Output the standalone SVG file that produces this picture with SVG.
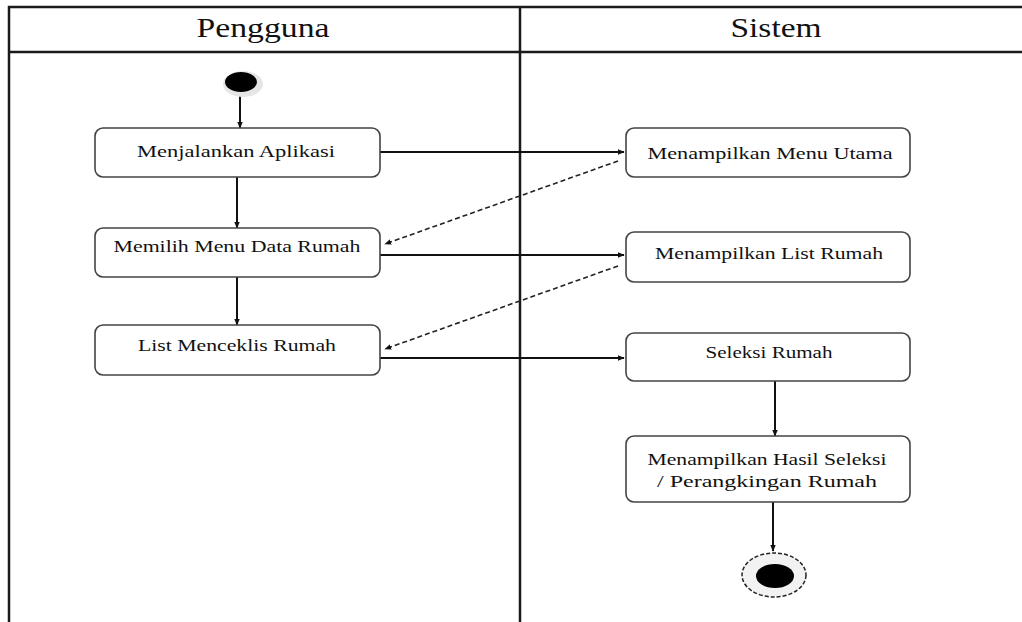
<svg xmlns="http://www.w3.org/2000/svg" width="1022" height="622" viewBox="0 0 1022 622">
  <style>
    .lane { fill: none; stroke: #1a1a1a; stroke-width: 2.5; }
    .head { font-family: "Liberation Serif", "Times New Roman", serif; font-size: 27px; fill: #111; text-anchor: middle; }
    .act rect { fill: #fff; stroke: #444; stroke-width: 1.6; }
    .act text { font-family: "Liberation Serif", "Times New Roman", serif; font-size: 17px; fill: #111; text-anchor: middle; }
    .flow { fill: none; stroke: #111; stroke-width: 2; marker-end: url(#arrow); }
    .back { fill: none; stroke: #222; stroke-width: 1.6; stroke-dasharray: 5 3; marker-end: url(#arrow); }
  </style>
  <defs>
    <marker id="arrow" viewBox="0 0 10 10" refX="9" refY="5" markerWidth="7" markerHeight="7" markerUnits="userSpaceOnUse" orient="auto">
      <path d="M0,1 L10,5 L0,9 z" fill="#111"/>
    </marker>
  </defs>
  <rect width="1022" height="622" fill="#fff"/>

  <!-- swimlanes -->
  <g id="lanes">
    <path class="lane" d="M9,622 V7 H1022 M9,52 H1022 M520,7 V622"/>
    <text class="head" x="263" y="37" textLength="133" lengthAdjust="spacingAndGlyphs">Pengguna</text>
    <text class="head" x="776" y="37" textLength="91" lengthAdjust="spacingAndGlyphs">Sistem</text>
  </g>

  <!-- connectors -->
  <g id="connectors">
    <path class="flow" d="M240,94 V128"/>
    <path class="flow" d="M237,177 V228"/>
    <path class="flow" d="M237,277 V325"/>
    <path class="flow" d="M380,152 H624"/>
    <path class="flow" d="M380,255 H624"/>
    <path class="flow" d="M380,358 H624"/>
    <path class="back" d="M618,161 L385,244"/>
    <path class="back" d="M618,266 L385,349"/>
    <path class="flow" d="M775,381 V436"/>
    <path class="flow" d="M773,502 V551"/>
  </g>

  <g id="start">
    <ellipse cx="243" cy="84" rx="20" ry="13" fill="#e6e6e6"/>
    <ellipse cx="241" cy="82" rx="16" ry="10" fill="#000"/>
  </g>

  <g id="menjalankan-aplikasi" class="act">
    <rect x="95" y="128" width="285" height="49" rx="8"/>
    <text x="236" y="157" textLength="198" lengthAdjust="spacingAndGlyphs">Menjalankan Aplikasi</text>
  </g>
  <g id="memilih-menu-data-rumah" class="act">
    <rect x="95" y="228" width="285" height="49" rx="8"/>
    <text x="237" y="252" textLength="247" lengthAdjust="spacingAndGlyphs">Memilih Menu Data Rumah</text>
  </g>
  <g id="list-menceklis-rumah" class="act">
    <rect x="95" y="325" width="285" height="50" rx="8"/>
    <text x="237" y="351" textLength="198" lengthAdjust="spacingAndGlyphs">List Menceklis Rumah</text>
  </g>

  <g id="menampilkan-menu-utama" class="act">
    <rect x="626" y="128" width="284" height="49" rx="8"/>
    <text x="770" y="159" textLength="245" lengthAdjust="spacingAndGlyphs">Menampilkan Menu Utama</text>
  </g>
  <g id="menampilkan-list-rumah" class="act">
    <rect x="626" y="232" width="284" height="50" rx="8"/>
    <text x="769" y="259" textLength="228" lengthAdjust="spacingAndGlyphs">Menampilkan List Rumah</text>
  </g>
  <g id="seleksi-rumah" class="act">
    <rect x="626" y="333" width="284" height="48" rx="8"/>
    <text x="769" y="358" textLength="127" lengthAdjust="spacingAndGlyphs">Seleksi Rumah</text>
  </g>
  <g id="hasil-seleksi" class="act">
    <rect x="626" y="436" width="284" height="66" rx="8"/>
    <text x="767" y="465" textLength="239" lengthAdjust="spacingAndGlyphs">Menampilkan Hasil Seleksi</text>
    <text x="767" y="487" textLength="220" lengthAdjust="spacingAndGlyphs">/ Perangkingan Rumah</text>
  </g>

  <g id="end">
    <ellipse cx="774" cy="575" rx="32" ry="22" fill="#f2f2f2" stroke="#222" stroke-width="1.5" stroke-dasharray="4 2"/>
    <ellipse cx="775" cy="576" rx="19" ry="12" fill="#000"/>
  </g>
</svg>
